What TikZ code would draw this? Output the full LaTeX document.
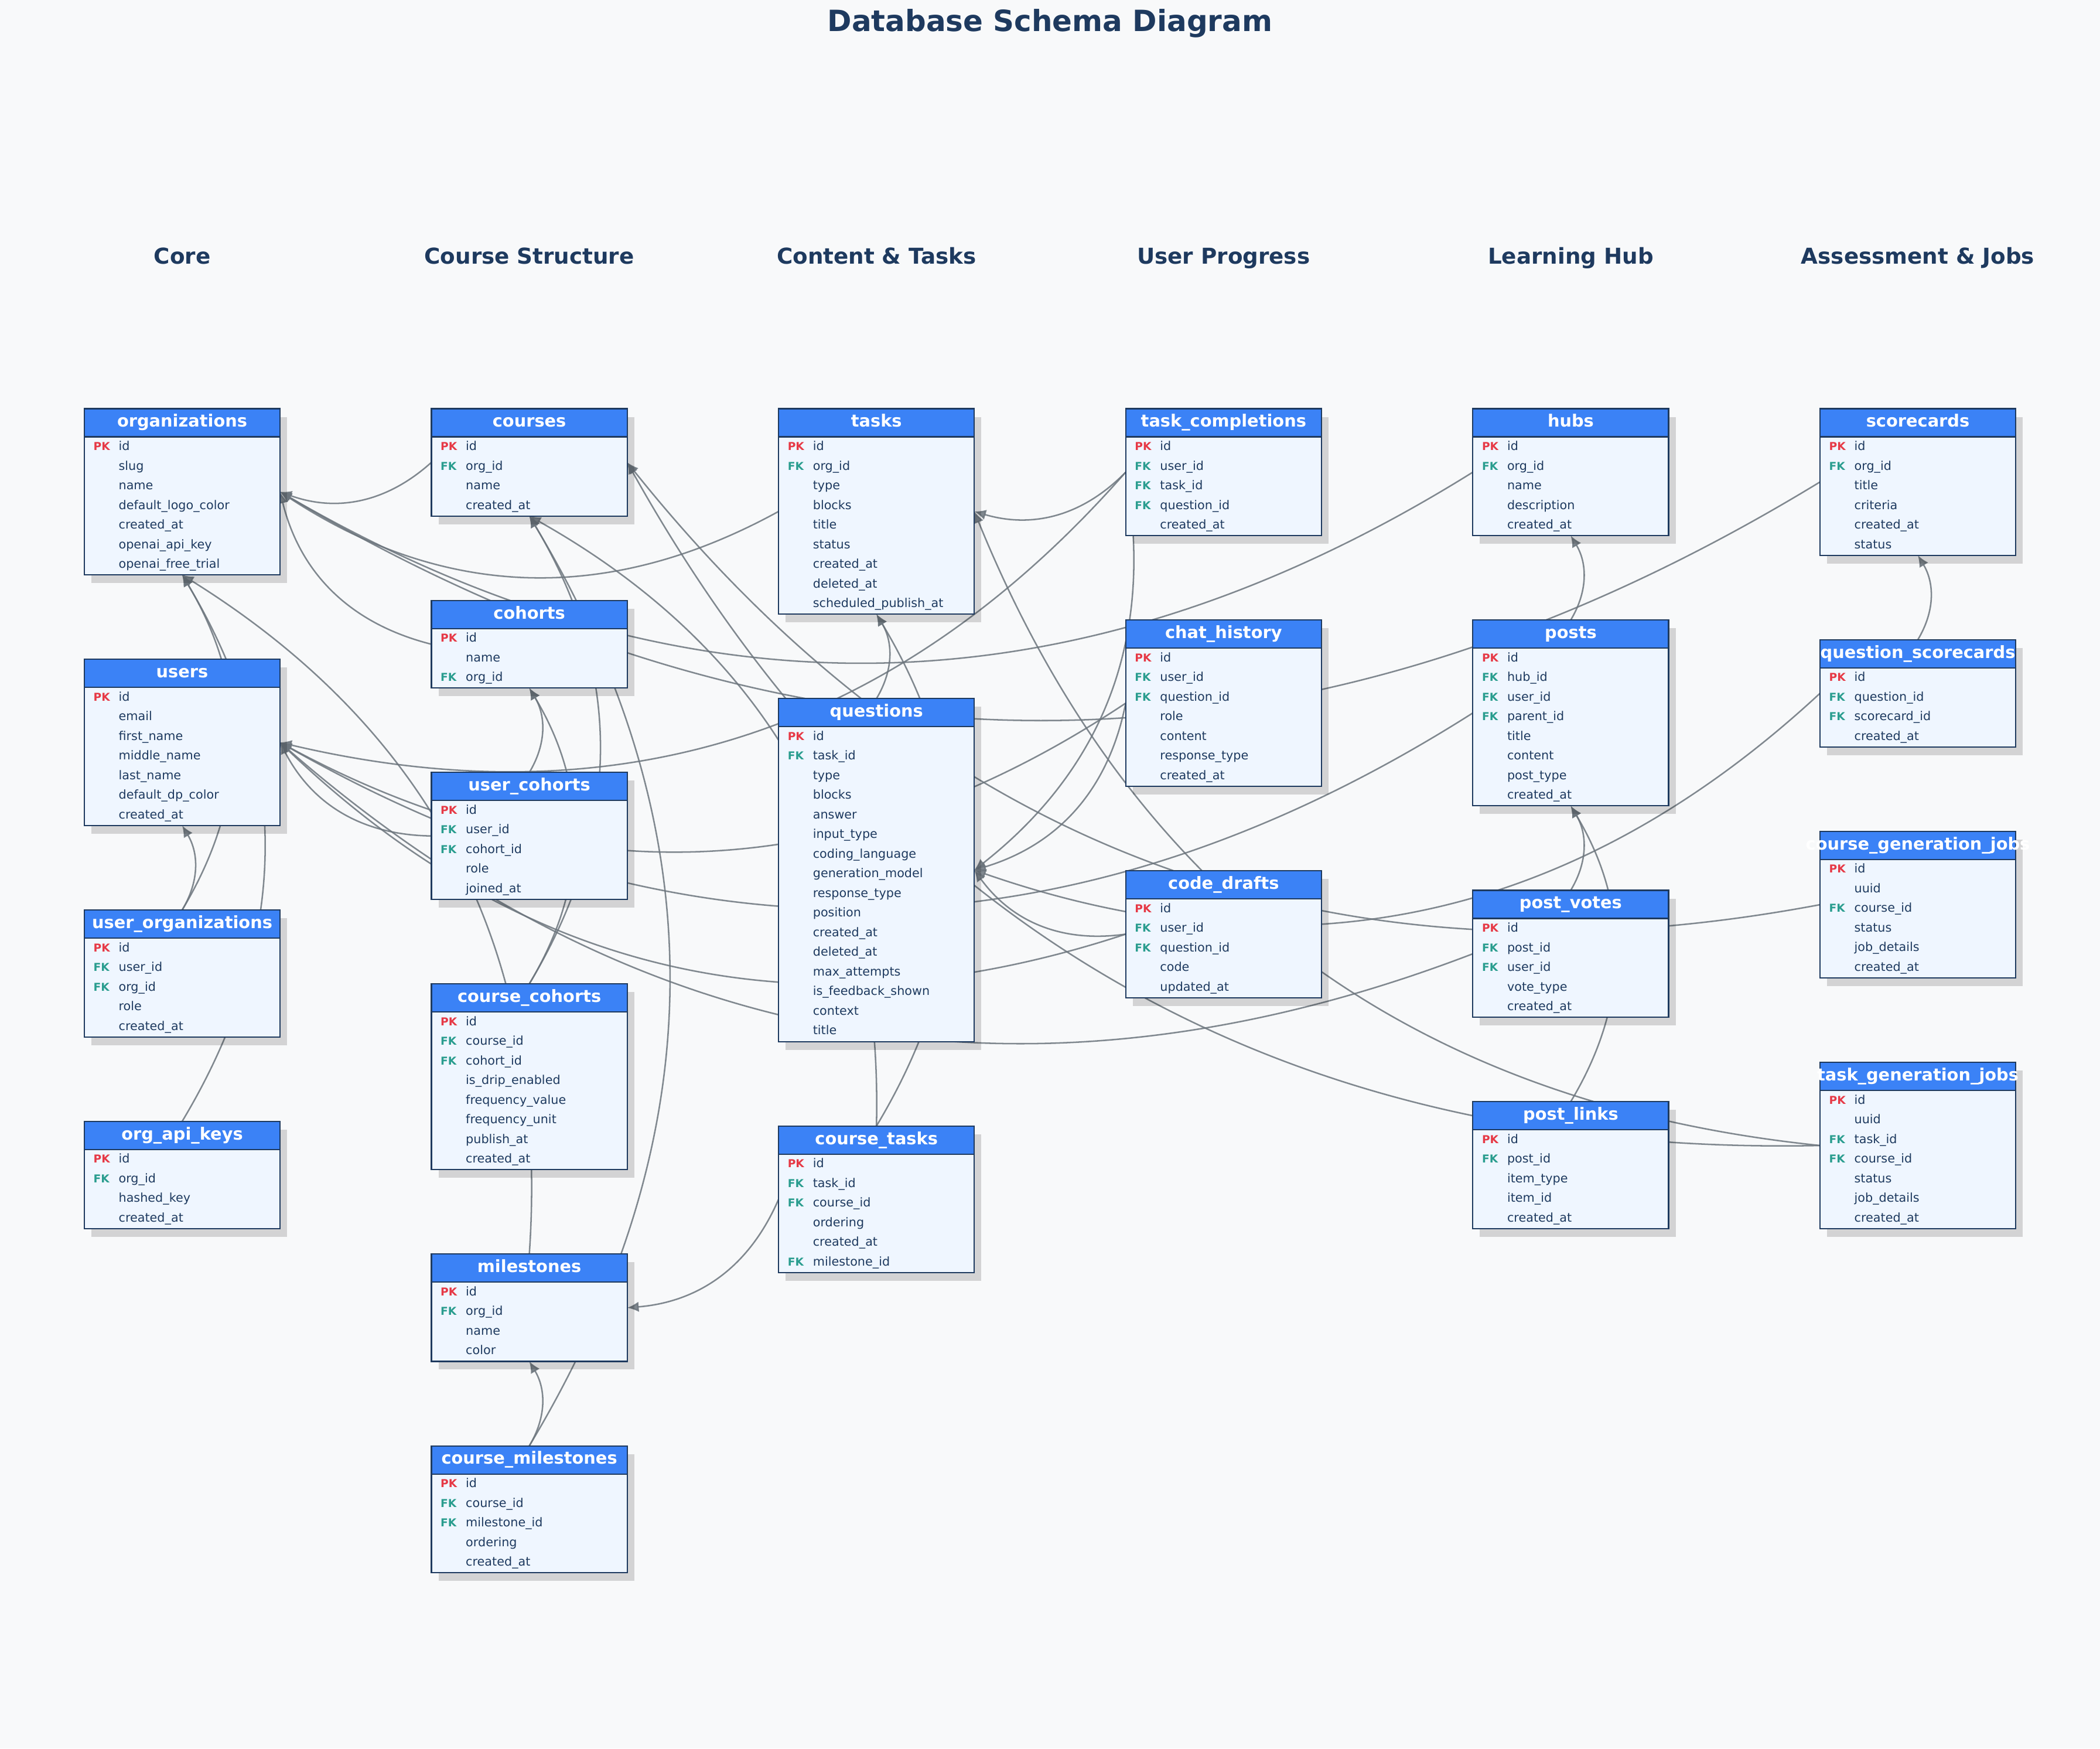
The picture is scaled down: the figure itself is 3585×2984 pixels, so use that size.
\documentclass[tikz,border=0pt]{standalone}
\usepackage{fontspec}
\setmainfont{DejaVu Sans}
\usepackage{tikz}
\usetikzlibrary{positioning,fit,calc,arrows.meta}

\definecolor{navy}{HTML}{1E3A5F}
\definecolor{headblue}{HTML}{3B82F6}
\definecolor{bodyblue}{HTML}{EFF6FF}
\definecolor{pkred}{HTML}{E63946}
\definecolor{fkteal}{HTML}{2A9D8F}
\definecolor{linkgray}{HTML}{6C757D}
\definecolor{paper}{HTML}{F8F9FA}

\pgfdeclarelayer{bg}
\pgfdeclarelayer{links}
\pgfdeclarelayer{shade}
\pgfsetlayers{bg,links,shade,main}

\tikzset{
  thead/.style={draw=navy, line width=0.6pt, fill=headblue, text=white,
    minimum width=3.34cm, minimum height=0.48cm, inner sep=0pt, outer sep=0pt,
    text height=6pt, text depth=1.8pt, font=\fontsize{8.2}{9}\selectfont\bfseries},
  tbody/.style={draw=navy, line width=0.6pt, fill=bodyblue, minimum width=3.34cm,
    inner sep=0pt, outer sep=0pt},
  keytxt/.style={anchor=base west, inner sep=0pt, font=\fontsize{5.3}{6}\selectfont\bfseries},
  PK/.style={text=pkred},
  FK/.style={text=fkteal},
  fieldtxt/.style={anchor=base west, inner sep=0pt, text=navy, font=\fontsize{5.9}{7}\selectfont},
  tshadow/.style={fill=black, opacity=0.15},
  link/.style={draw=linkgray, opacity=0.85, line width=0.72pt, -{Latex[length=5.6pt,width=5pt]}},
  sidelink/.style={bend left=31},
  uplink/.style={bend right=31},
  collabel/.style={anchor=base, text=navy, font=\fontsize{10.6}{12}\selectfont\bfseries},
}

% table: name, placement, title, rows, fields
\newcommand{\dbtable}[5]{%
  \node [thead, #2] (#1-h) {\makebox[0pt]{#3}};
  \node [tbody, below=0pt of #1-h, minimum height=#4*0.335cm+0.01cm] (#1-b) {};
  \node [fit=(#1-h)(#1-b), inner sep=0pt, outer sep=0pt] (#1) {};
  \begin{pgfonlayer}{shade}
    \fill [tshadow] ([shift={(12,14)}]#1.north west) rectangle ([shift={(12,14)}]#1.south east);
  \end{pgfonlayer}
  \foreach \k/\f [count=\i] in {#5} {
    \node [keytxt, \k] (#1-k\i) at ([shift={(15,{23+33.5*(\i-1)})}]#1-b.north west) {\k};
    \node [fieldtxt] (#1-f\i) at ([shift={(58,{23+33.5*(\i-1)})}]#1-b.north west) {\f};
  }%
}

\begin{document}
\begin{tikzpicture}[x=0.01cm, y=-0.01cm]
  \useasboundingbox (0,0) rectangle (3585,2984);
  \begin{pgfonlayer}{bg}
    \fill [paper] (0,0) rectangle (3585,2984);
  \end{pgfonlayer}

  % Title and column labels
  \node [text=navy, font=\fontsize{14.2}{17}\selectfont\bfseries] (title) at (1792.5,40) {Database Schema Diagram};
  \foreach \t [count=\i from 0] in {Core, Course Structure, Content \& Tasks, User Progress, Learning Hub, Assessment \& Jobs}
    \node [collabel] (col\i) at ({311+592.6*\i},450) {\t};

  % Core
  \dbtable{organizations}{anchor=north, at={(311,697.5)}}{organizations}{7}{PK/id, /slug, /name, /default\_logo\_color, /created\_at, /openai\_api\_key, /openai\_free\_trial}
  \dbtable{users}{below=1.44cm of organizations}{users}{7}{PK/id, /email, /first\_name, /middle\_name, /last\_name, /default\_dp\_color, /created\_at}
  \dbtable{userorgs}{below=1.44cm of users}{user\_organizations}{5}{PK/id, FK/user\_id, FK/org\_id, /role, /created\_at}
  \dbtable{orgkeys}{below=1.44cm of userorgs}{org\_api\_keys}{4}{PK/id, FK/org\_id, /hashed\_key, /created\_at}

  % Course Structure
  \dbtable{courses}{anchor=north, at={(903.6,697.5)}}{courses}{4}{PK/id, FK/org\_id, /name, /created\_at}
  \dbtable{cohorts}{below=1.44cm of courses}{cohorts}{3}{PK/id, /name, FK/org\_id}
  \dbtable{usercohorts}{below=1.44cm of cohorts}{user\_cohorts}{5}{PK/id, FK/user\_id, FK/cohort\_id, /role, /joined\_at}
  \dbtable{coursecohorts}{below=1.44cm of usercohorts}{course\_cohorts}{8}{PK/id, FK/course\_id, FK/cohort\_id, /is\_drip\_enabled, /frequency\_value, /frequency\_unit, /publish\_at, /created\_at}
  \dbtable{milestones}{below=1.44cm of coursecohorts}{milestones}{4}{PK/id, FK/org\_id, /name, /color}
  \dbtable{coursemiles}{below=1.44cm of milestones}{course\_milestones}{5}{PK/id, FK/course\_id, FK/milestone\_id, /ordering, /created\_at}

  % Content & Tasks
  \dbtable{tasks}{anchor=north, at={(1496.2,697.5)}}{tasks}{9}{PK/id, FK/org\_id, /type, /blocks, /title, /status, /created\_at, /deleted\_at, /scheduled\_publish\_at}
  \dbtable{questions}{below=1.44cm of tasks}{questions}{16}{PK/id, FK/task\_id, /type, /blocks, /answer, /input\_type, /coding\_language, /generation\_model, /response\_type, /position, /created\_at, /deleted\_at, /max\_attempts, /is\_feedback\_shown, /context, /title}
  \dbtable{coursetasks}{below=1.44cm of questions}{course\_tasks}{6}{PK/id, FK/task\_id, FK/course\_id, /ordering, /created\_at, FK/milestone\_id}

  % User Progress
  \dbtable{taskdone}{anchor=north, at={(2088.8,697.5)}}{task\_completions}{5}{PK/id, FK/user\_id, FK/task\_id, FK/question\_id, /created\_at}
  \dbtable{chats}{below=1.44cm of taskdone}{chat\_history}{7}{PK/id, FK/user\_id, FK/question\_id, /role, /content, /response\_type, /created\_at}
  \dbtable{drafts}{below=1.44cm of chats}{code\_drafts}{5}{PK/id, FK/user\_id, FK/question\_id, /code, /updated\_at}

  % Learning Hub
  \dbtable{hubs}{anchor=north, at={(2681.4,697.5)}}{hubs}{5}{PK/id, FK/org\_id, /name, /description, /created\_at}
  \dbtable{posts}{below=1.44cm of hubs}{posts}{8}{PK/id, FK/hub\_id, FK/user\_id, FK/parent\_id, /title, /content, /post\_type, /created\_at}
  \dbtable{votes}{below=1.44cm of posts}{post\_votes}{5}{PK/id, FK/post\_id, FK/user\_id, /vote\_type, /created\_at}
  \dbtable{postlinks}{below=1.44cm of votes}{post\_links}{5}{PK/id, FK/post\_id, /item\_type, /item\_id, /created\_at}

  % Assessment & Jobs
  \dbtable{scorecards}{anchor=north, at={(3274,697.5)}}{scorecards}{6}{PK/id, FK/org\_id, /title, /criteria, /created\_at, /status}
  \dbtable{qscores}{below=1.44cm of scorecards}{question\_scorecards}{4}{PK/id, FK/question\_id, FK/scorecard\_id, /created\_at}
  \dbtable{coursejobs}{below=1.44cm of qscores}{course\_generation\_jobs}{6}{PK/id, /uuid, FK/course\_id, /status, /job\_details, /created\_at}
  \dbtable{taskjobs}{below=1.44cm of coursejobs}{task\_generation\_jobs}{7}{PK/id, /uuid, FK/task\_id, FK/course\_id, /status, /job\_details, /created\_at}

  % Links
  \begin{pgfonlayer}{links}
    % across columns
    \foreach \a/\b in {courses/organizations, cohorts/organizations, tasks/organizations, hubs/organizations, scorecards/organizations,
        usercohorts/users, taskdone/users, chats/users, drafts/users, posts/users, votes/users,
        taskdone/tasks, taskjobs/tasks, taskdone/questions, chats/questions, drafts/questions, qscores/questions,
        coursetasks/milestones, coursejobs/courses, taskjobs/courses}
      \draw [link] (\a.west) to[sidelink] (\b.east);
    % up a column
    \foreach \a/\b in {userorgs/users, userorgs/organizations, orgkeys/organizations, milestones/organizations,
        usercohorts/cohorts, coursecohorts/cohorts, coursecohorts/courses, coursemiles/courses, coursetasks/courses,
        coursemiles/milestones, questions/tasks, coursetasks/tasks, posts/hubs, votes/posts, postlinks/posts, qscores/scorecards}
      \draw [link] (\a.north) to[uplink] (\b.south);
  \end{pgfonlayer}
\end{tikzpicture}
\end{document}
